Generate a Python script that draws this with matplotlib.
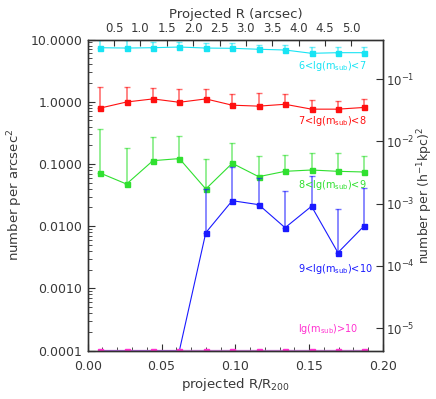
import numpy as np
import matplotlib.pyplot as plt
from matplotlib.ticker import FixedLocator, FuncFormatter, NullLocator, MultipleLocator, LogLocator

# radial bins (projected R / R200)
r = [0.0084, 0.0263, 0.0442, 0.0621, 0.0800, 0.0979, 0.1158, 0.1337, 0.1516, 0.1695, 0.1874]

# surface density (number per arcsec^2) and upper error ends, per mass bin
n67 = [7.38, 7.29, 7.38, 7.57, 7.29, 7.22, 6.97, 6.78, 6.00, 6.14, 6.14]
u67 = [9.9, 9.9, 9.2, 9.0, 8.8, 8.7, 8.2, 8.2, 7.7, 7.5, 7.5]
n78 = [0.79, 0.99, 1.11, 0.98, 1.11, 0.88, 0.85, 0.91, 0.76, 0.76, 0.81]
u78 = [1.75, 1.71, 1.64, 1.60, 1.58, 1.32, 1.37, 1.32, 1.05, 1.02, 1.09]
n89 = [0.0716, 0.0476, 0.113, 0.122, 0.0396, 0.1026, 0.0625, 0.0762, 0.080, 0.0762, 0.0743]
u89 = [0.360, 0.183, 0.269, 0.284, 0.119, 0.217, 0.136, 0.138, 0.152, 0.152, 0.136]
# first bins are empty -> drawn at the bottom of the plot
n910 = [1e-4, 1e-4, 1e-4, 1e-4, 0.00787, 0.0257, 0.0222, 0.00946, 0.0209, 0.00376, 0.0102]
u910 = [np.nan, np.nan, np.nan, np.nan, 0.040, 0.0904, 0.0603, 0.0364, 0.0641, 0.0191, 0.0407]
n10 = [1e-4] * 11

labels = [r'6<lg(m$_{\rm sub}$)<7', r'7<lg(m$_{\rm sub}$)<8', r'8<lg(m$_{\rm sub}$)<9',
          r'9<lg(m$_{\rm sub}$)<10', r'lg(m$_{\rm sub}$)>10']
label_y = [3.79, 0.496, 0.0459, 0.00203, 2.23e-4]
colors = ['#18e4f4', '#ff1010', '#30e030', '#1a1aff', '#ff30d0']

arcsec_ticks = [0.5, 1.0, 1.5, 2.0, 2.5, 3.0, 3.5, 4.0, 4.5, 5.0]
arcsec_per_r = 28.0      # R/R200 -> arcsec
kpc_factor = 0.0435      # arcsec^-2 -> (h^-1 kpc)^-2

plt.rcParams['font.family'] = 'DejaVu Sans'
txt = '#383838'

fig = plt.figure(figsize=(4.36, 3.99), dpi=100)
ax = fig.add_axes([0.2011, 0.1211, 0.6773, 0.7799])

series = [(n67, u67), (n78, u78), (n89, u89), (n910, u910)]
for (n, u), c in zip(series, colors):
    n = np.array(n)
    u = np.array(u)
    ok = ~np.isnan(u)
    x = np.array(r)[ok]
    ax.errorbar(x, n[ok], yerr=[np.zeros(ok.sum()), u[ok] - n[ok]], fmt='none',
                ecolor=c, elinewidth=1.2, alpha=0.6, capsize=2, capthick=1.0)
    ax.plot(r, n, color=c, lw=0.8)
    ax.plot(x, n[ok], 's', color=c, ms=3.6, mec=c)

ax.plot(r, n10, color='#d070e0', lw=2.4, alpha=0.85)
ax.plot(r, n10, 's', color=colors[4], ms=3.6, clip_on=True)

for lab, ly, c in zip(labels, label_y, colors):
    ax.text(0.1424, ly, lab, color=c, fontsize=7, ha='left', va='center')

ax.set_yscale('log')
ax.set_xlim(0, 0.2)
ax.set_ylim(1e-4, 10)
ax.yaxis.set_major_locator(FixedLocator([1e-4, 1e-3, 1e-2, 1e-1, 1, 10]))
ax.yaxis.set_major_formatter(FuncFormatter(lambda v, p: '%.4f' % v))
ax.yaxis.set_minor_locator(LogLocator(base=10, subs=np.arange(2, 10)))
ax.xaxis.set_major_locator(MultipleLocator(0.05))
ax.xaxis.set_minor_locator(MultipleLocator(0.01))
ax.xaxis.set_major_formatter(FuncFormatter(lambda v, p: '%.2f' % v))
ax.tick_params(which='both', direction='in', top=False, right=False, colors='#303030',
               labelcolor=txt, labelsize=9)
ax.tick_params(axis='x', which='major', length=5, pad=7)
ax.tick_params(axis='x', which='minor', length=3)
ax.tick_params(axis='y', which='major', length=5, pad=4)
ax.tick_params(axis='y', which='minor', length=3)
ax.set_xlabel(r'projected R/R$_{200}$', fontsize=9.5, color=txt, labelpad=2)
ax.set_ylabel(r'number per arcsec$^2$', fontsize=9.5, color=txt, labelpad=4)

# top axis in arcsec
axt = ax.twiny()
axt.set_xlim(0, 0.2 * arcsec_per_r)
axt.xaxis.set_major_locator(FixedLocator(arcsec_ticks))
axt.xaxis.set_major_formatter(FuncFormatter(lambda v, p: '%.1f' % v))
axt.tick_params(axis='x', direction='in', length=4, pad=3, colors='#303030',
                labelcolor=txt, labelsize=8.5)
axt.set_xlabel('Projected R (arcsec)', fontsize=9.5, color=txt, labelpad=3)

# right axis in (h^-1 kpc)^-2
axr = ax.twinx()
axr.set_yscale('log')
axr.set_ylim(1e-4 * kpc_factor, 10 * kpc_factor)
axr.yaxis.set_major_locator(FixedLocator([1e-5, 1e-4, 1e-3, 1e-2, 1e-1]))
axr.yaxis.set_minor_locator(NullLocator())
axr.tick_params(axis='y', direction='in', length=5, pad=2, colors='#303030',
                labelcolor=txt, labelsize=8.5)
axr.set_ylabel(r'number per (h$^{-1}$kpc)$^2$', fontsize=9, color=txt)
axr.yaxis.set_label_coords(1.11, 0.5)

for a in (ax, axt, axr):
    for s in a.spines.values():
        s.set_color('#303030')
        s.set_linewidth(0.9)

fig.savefig('out.png', dpi=100)
